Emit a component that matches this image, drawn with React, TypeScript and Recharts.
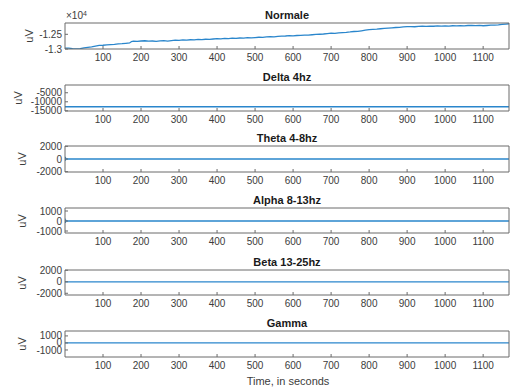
import React from 'react';
import { LineChart, Line, XAxis, YAxis } from 'recharts';

const xTicks = [100, 200, 300, 400, 500, 600, 700, 800, 900, 1000, 1100];
const xDomain: [number, number] = [0, 1168];

const normaleTime = [
  0, 10, 20, 30, 40, 50, 60, 70, 80, 90, 100, 110, 120, 130, 140, 150, 160, 170, 175, 180, 190,
  200, 210, 220, 230, 240, 250, 260, 270, 280, 290, 300, 310, 320, 330, 340, 350, 360, 370, 380, 390,
  400, 410, 420, 430, 440, 450, 460, 470, 480, 490, 500, 510, 520, 530, 540, 550, 560, 570, 580, 590,
  600, 610, 620, 630, 640, 650, 660, 670, 680, 690, 700, 710, 720, 730, 740, 750, 760, 770, 780, 790,
  800, 810, 820, 830, 840, 850, 860, 870, 880, 890, 900, 910, 920, 930, 940, 950, 960, 970, 980, 990,
  1000, 1010, 1020, 1030, 1040, 1050, 1060, 1070, 1080, 1090, 1100, 1110, 1120, 1130, 1140, 1150, 1160, 1168,
];
const normaleValues = [
  -12968, -12972, -12985, -12995, -12990, -12962, -12945, -12930, -12905, -12880, -12872, -12860, -12848, -12840, -12826, -12818, -12806, -12795, -12745, -12735, -12742,
  -12728, -12720, -12735, -12728, -12740, -12722, -12715, -12730, -12712, -12700, -12705, -12690, -12698, -12685, -12692, -12675, -12680, -12668, -12675, -12660,
  -12648, -12655, -12640, -12645, -12632, -12640, -12625, -12630, -12615, -12622, -12610, -12600, -12605, -12590, -12582, -12590, -12570, -12565, -12558, -12548,
  -12552, -12540, -12535, -12528, -12530, -12515, -12505, -12498, -12490, -12475, -12462, -12470, -12448, -12440, -12432, -12420, -12405, -12398, -12380, -12360,
  -12340, -12330, -12322, -12310, -12298, -12290, -12280, -12268, -12262, -12250, -12240, -12236, -12242, -12230, -12225, -12232, -12220, -12226, -12215, -12220,
  -12212, -12218, -12208, -12215, -12205, -12212, -12200, -12195, -12205, -12198, -12208, -12200, -12190, -12185, -12178, -12165, -12150, -12140,
];

const deltaTime = [0, 1168];
const deltaValues = [-12750, -12750];

const thetaTime = [0, 1, 2, 3, 1168];
const thetaValues = [300, -250, 120, 0, 0];

const alphaTime = [0, 1, 2, 3, 1168];
const alphaValues = [250, -200, 100, 0, 0];

const betaTime = [0, 1168];
const betaValues = [0, 0];

const gammaTime = [0, 1168];
const gammaValues = [0, 0];

const FONT = '"Liberation Sans", Arial, Helvetica, sans-serif';
const AXIS = '#6b6b6b';
const TEXT = '#3c3c3c';
const LINE = '#2a86cc';

type PanelProps = {
  title: string;
  times: number[];
  values: number[];
  domain: [number, number];
  yTicks: number[];
  fmt?: (v: number) => string;
  top: number;
  bottom: number;
  ylabelX: number;
};

function Panel({ title, times, values, domain, yTicks, fmt, top, bottom, ylabelX }: PanelProps) {
  const data = times.map((t, i) => ({ t, v: values[i] }));
  const ph = bottom - top;
  const mTop = 7;
  const h = ph + mTop + 1 + 20;
  return (
    <>
      <div
        style={{
          position: 'absolute',
          left: 187,
          width: 200,
          top: top - 14,
          textAlign: 'center',
          fontFamily: FONT,
          fontWeight: 'bold',
          fontSize: 11,
          lineHeight: '12px',
          color: '#1a1a1a',
        }}
      >
        {title}
      </div>
      <div
        style={{
          position: 'absolute',
          left: ylabelX - 20,
          width: 40,
          top: top + ph / 2 - 6,
          height: 12,
          lineHeight: '12px',
          textAlign: 'center',
          transform: 'rotate(-90deg)',
          fontFamily: FONT,
          fontSize: 11,
          color: TEXT,
        }}
      >
        uV
      </div>
      <div style={{ position: 'absolute', left: 0, top: top - mTop - 1 }}>
        <LineChart width={510} height={h} data={data} margin={{ top: mTop, right: 0, bottom: 0, left: 0 }}>
          <XAxis
            dataKey="t"
            type="number"
            domain={xDomain}
            ticks={xTicks}
            interval={0}
            allowDataOverflow
            height={20}
            tickSize={-3}
            tickMargin={8}
            stroke={AXIS}
            tick={{ fill: TEXT, fontSize: 10, fontFamily: FONT }}
          />
          <XAxis
            xAxisId="top"
            dataKey="t"
            orientation="top"
            type="number"
            domain={xDomain}
            ticks={xTicks}
            interval={0}
            allowDataOverflow
            height={1}
            tickSize={-3}
            tick={false}
            stroke={AXIS}
          />
          <YAxis
            type="number"
            domain={domain}
            ticks={yTicks}
            interval={0}
            allowDataOverflow
            width={65}
            tickSize={-3}
            tickMargin={6}
            stroke={AXIS}
            tickFormatter={fmt}
            tick={{ fill: TEXT, fontSize: 10, fontFamily: FONT }}
          />
          <YAxis
            yAxisId="right"
            orientation="right"
            type="number"
            domain={domain}
            ticks={yTicks}
            interval={0}
            allowDataOverflow
            width={1}
            tickSize={-3}
            tick={false}
            stroke={AXIS}
          />
          <Line
            dataKey="v"
            xAxisId="top"
            yAxisId="right"
            stroke="none"
            dot={false}
            activeDot={false}
            isAnimationActive={false}
          />
          <Line
            dataKey="v"
            stroke={LINE}
            strokeWidth={1.3}
            dot={false}
            isAnimationActive={false}
          />
        </LineChart>
      </div>
    </>
  );
}

export default function App() {
  return (
    <div
      style={{
        position: 'absolute',
        left: 0,
        top: 0,
        width: 510,
        height: 387,
        background: '#ffffff',
        overflow: 'hidden',
      }}
    >
      <div
        style={{
          position: 'absolute',
          left: 66,
          top: 10,
          fontFamily: FONT,
          fontSize: 10,
          lineHeight: '12px',
          color: TEXT,
        }}
      >
        ×10<sup style={{ fontSize: 7, verticalAlign: 'top', lineHeight: '7px' }}>4</sup>
      </div>
      <Panel
        title="Normale"
        times={normaleTime}
        values={normaleValues}
        domain={[-13000, -12115]}
        yTicks={[-13000, -12500]}
        fmt={(v: number) => String(v / 10000)}
        top={23}
        bottom={49}
        ylabelX={29}
      />
      <Panel
        title="Delta 4hz"
        times={deltaTime}
        values={deltaValues}
        domain={[-15100, -700]}
        yTicks={[-15000, -10000, -5000]}
        top={85}
        bottom={111}
        ylabelX={18}
      />
      <Panel
        title="Theta 4-8hz"
        times={thetaTime}
        values={thetaValues}
        domain={[-2050, 2050]}
        yTicks={[-2000, 0, 2000]}
        top={146}
        bottom={172}
        ylabelX={22}
      />
      <Panel
        title="Alpha 8-13hz"
        times={alphaTime}
        values={alphaValues}
        domain={[-1200, 1300]}
        yTicks={[-1000, 0, 1000]}
        top={208}
        bottom={233}
        ylabelX={22}
      />
      <Panel
        title="Beta 13-25hz"
        times={betaTime}
        values={betaValues}
        domain={[-2300, 2050]}
        yTicks={[-2000, 0, 2000]}
        top={270}
        bottom={295}
        ylabelX={22}
      />
      <Panel
        title="Gamma"
        times={gammaTime}
        values={gammaValues}
        domain={[-2000, 1700]}
        yTicks={[-1000, 0, 1000]}
        top={331}
        bottom={357}
        ylabelX={22}
      />
      <div
        style={{
          position: 'absolute',
          left: 188,
          width: 200,
          top: 375,
          textAlign: 'center',
          fontFamily: FONT,
          fontSize: 11,
          lineHeight: '12px',
          color: TEXT,
        }}
      >
        Time, in seconds
      </div>
    </div>
  );
}
